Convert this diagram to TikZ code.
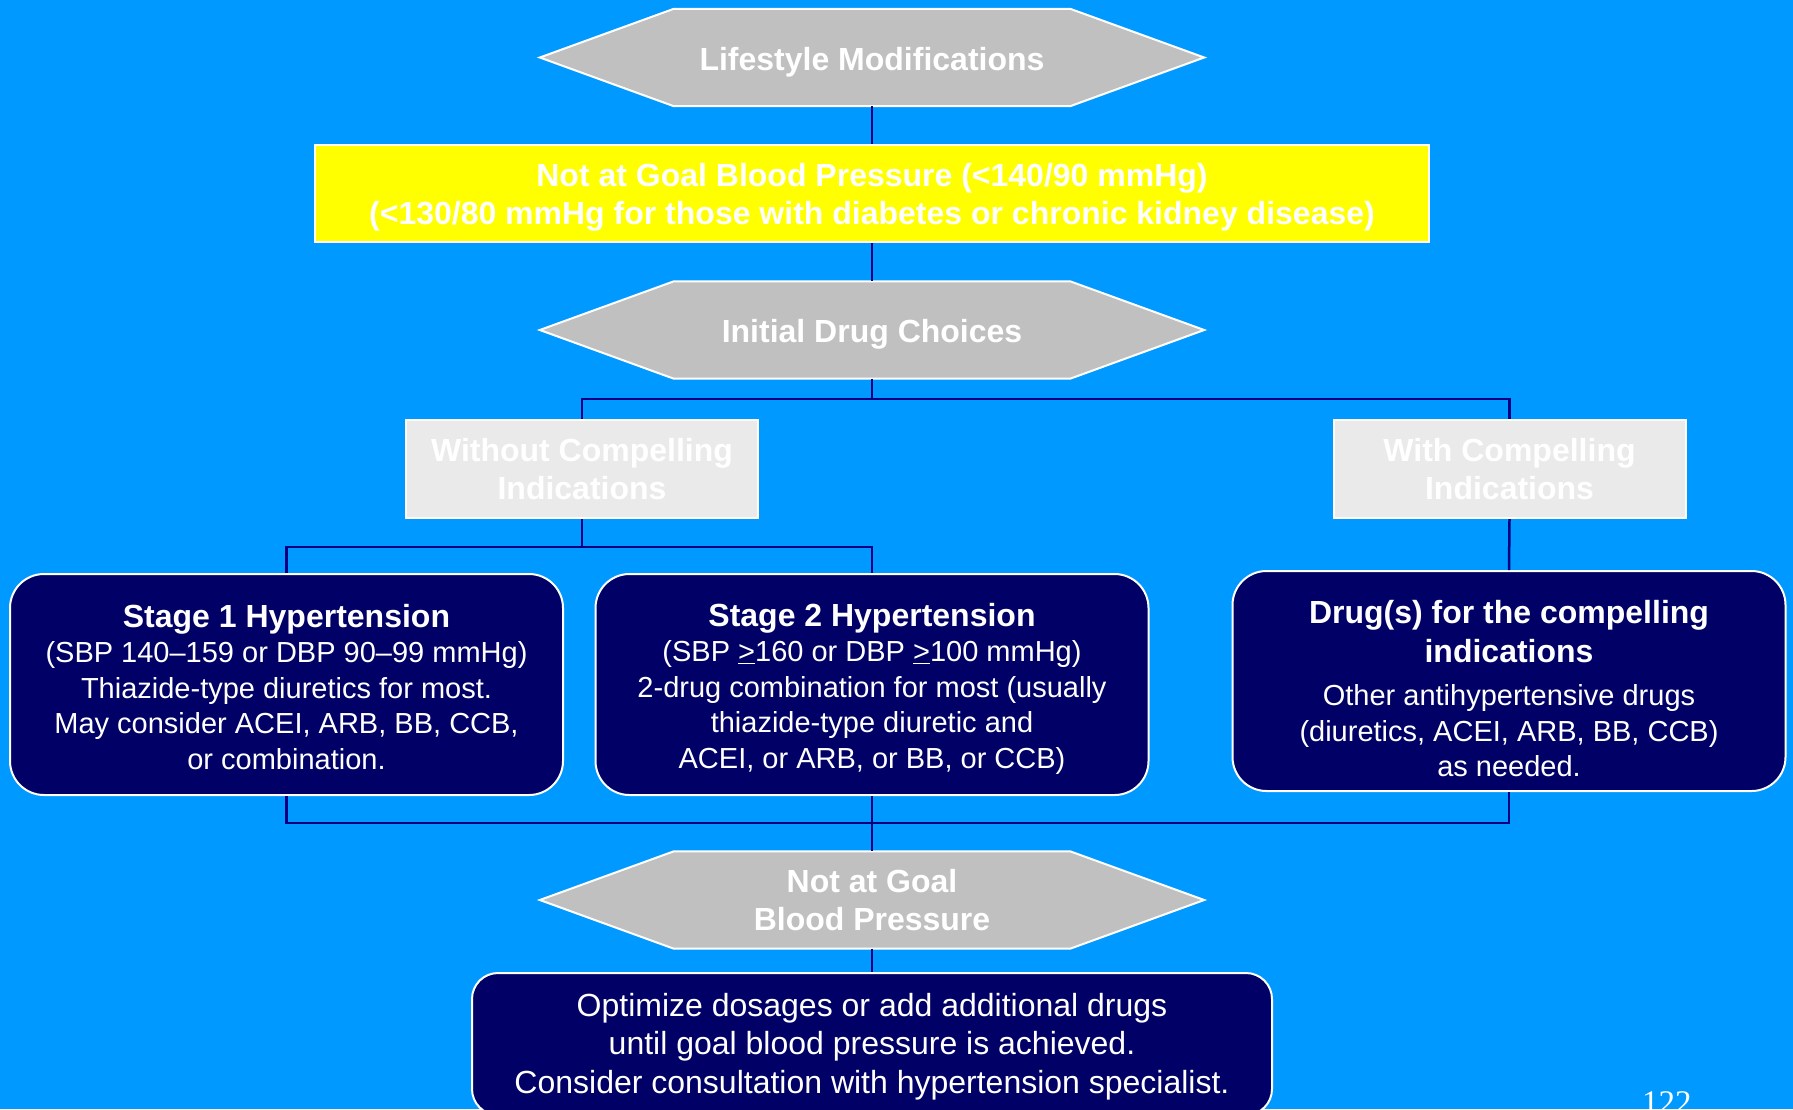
\documentclass[tikz,border=0pt]{standalone}
\usepackage{fontspec}
\setmainfont{Liberation Sans}
\newfontfamily\pagenumfont{Liberation Serif}
\usetikzlibrary{backgrounds}
\definecolor{bgblue}{RGB}{0,153,255}
\definecolor{navy}{RGB}{0,0,102}
\definecolor{linenavy}{RGB}{0,0,128}
\definecolor{hexgray}{RGB}{192,192,192}
\definecolor{lightbox}{RGB}{234,234,234}
\definecolor{yell}{RGB}{255,255,0}
\newcommand\drawhexa[1]{\filldraw[hexfill] (#1.west) -- ([xshift=134pt]#1.north west) -- ([xshift=-134pt]#1.north east) -- (#1.east) -- ([xshift=-134pt]#1.south east) -- ([xshift=134pt]#1.south west) -- cycle;}
\newcommand\ttl{\bfseries\fontsize{32}{38}\selectfont}
\newcommand\sstrut[1]{\rule{0pt}{#1pt}}
\begin{document}
\begin{tikzpicture}[x=1pt,y=-1pt,
  hexfill/.style={fill=hexgray,draw=white,line width=2pt},
  hexnode/.style={minimum width=664pt,minimum height=97pt,inner sep=0pt,text=white,
    font=\fontsize{32}{38}\selectfont\bfseries,align=center},
  yellowbox/.style={fill=yell,draw=white,line width=2pt,minimum width=1114pt,minimum height=97pt,
    inner sep=0pt,text=white,font=\fontsize{32}{38}\selectfont\bfseries,align=center},
  greybox/.style={fill=lightbox,draw=white,line width=2pt,minimum width=352pt,minimum height=98pt,
    inner sep=0pt,text=white,font=\fontsize{32}{38}\selectfont\bfseries,align=center},
  navybox/.style={fill=navy,draw=white,line width=2pt,rounded corners=34pt,minimum width=553pt,
    minimum height=221pt,inner sep=0pt,text=white,font=\fontsize{29}{35.5}\selectfont,align=center},
  finalbox/.style={fill=navy,draw=white,line width=2pt,rounded corners=26pt,minimum width=800pt,
    minimum height=142pt,inner sep=0pt,text=white,font=\fontsize{32}{38.5}\selectfont,align=center},
  conn/.style={draw=linenavy,line width=2.5pt}]
\useasboundingbox (0,0) rectangle (1793,1109);

\node[hexnode] (h1) at (872,57.5) {\sstrut{32.7}Lifestyle Modifications};
\node[yellowbox] (goal) at (872,193.5) {\sstrut{31.5}Not at Goal Blood Pressure (<140/90 mmHg)\\(<130/80 mmHg for those with diabetes or chronic kidney disease)};
\node[hexnode] (h2) at (872,330) {\sstrut{32.7}Initial Drug Choices};
\node[greybox] (without) at (582,469) {Without Compelling\\Indications};
\node[greybox] (with) at (1509.5,469) {With Compelling\\Indications};
\node[navybox] (stage1) at (286.5,684.5) {{\ttl\sstrut{28}Stage 1 Hypertension}\\(SBP 140–159 or DBP 90–99 mmHg)\\Thiazide-type diuretics for most.\\May consider ACEI, ARB, BB, CCB,\\or combination.};
\node[navybox] (stage2) at (872,684.5) {{\ttl\sstrut{31.5}Stage 2 Hypertension}\\(SBP \underline{>}160 or DBP \underline{>}100 mmHg)\\2-drug combination for most (usually\\thiazide-type diuretic and\\ACEI, or ARB, or BB, or CCB)};
\node[navybox,minimum height=220pt] (drug) at (1509,681) {{\ttl\sstrut{38.3}Drug(s) for the compelling}\\[3pt]{\ttl indications}\\[8pt]Other antihypertensive drugs\\(diuretics, ACEI, ARB, BB, CCB)\\as needed.};
\node[hexnode] (h3) at (872,900) {Not at Goal\\Blood Pressure};
\node[finalbox] (final) at (872,1044) {\sstrut{28}Optimize dosages or add additional drugs\\until goal blood pressure is achieved.\\Consider consultation with hypertension specialist.};
\node[anchor=base west,inner sep=0pt,text=white,font=\pagenumfont\fontsize{33}{38}\selectfont] (pagenum) at (1642,1113) {122};

\coordinate (j1) at (872,399);
\coordinate (j2) at (582,547);
\coordinate (j3) at (872,823);
\draw[conn] (h1.south) -- (goal.north);
\draw[conn] (goal.south) -- (h2.north);
\draw[conn] (h2.south) -- (j1);
\draw[conn] (without.north) |- (j1);
\draw[conn] (with.north) |- (j1);
\draw[conn] (without.south) -- (j2);
\draw[conn] (stage1.north) |- (j2);
\draw[conn] (stage2.north) |- (j2);
\draw[conn] (with.south) -- (drug.north);
\draw[conn] (stage1.south) |- (j3);
\draw[conn] (drug.south) |- (j3);
\draw[conn] (stage2.south) -- (h3.north);
\draw[conn] (h3.south) -- (final.north);

\begin{scope}[on background layer]
\fill[bgblue] (0,0) rectangle (1793,1109);
\drawhexa{h1}
\drawhexa{h2}
\drawhexa{h3}
\end{scope}
\end{tikzpicture}
\end{document}
